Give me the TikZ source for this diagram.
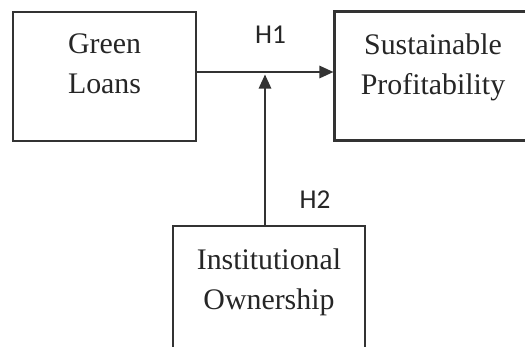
\documentclass[tikz,border=0pt]{standalone}
\usepackage{fontspec}
\setmainfont{Liberation Serif}
\newfontfamily\hypfont{Carlito}
\usetikzlibrary{arrows.meta,positioning}

\begin{document}
\begin{tikzpicture}[x=0.02cm, y=-0.02cm,
  box/.style={draw=black!80, line width=1.2pt, rectangle, inner sep=0pt, minimum height=2.58cm},
  arrow/.style={-{Triangle[length=8pt, width=7pt]}, line width=1.2pt, draw=black!80},
  txt/.style={font=\fontsize{17}{23.2}\selectfont, align=center, text=black!85, inner sep=0pt, anchor=north},
  hyp/.style={font=\hypfont\fontsize{15.5}{18}\selectfont, text=black!85, anchor=base},
]
\useasboundingbox (0,0) rectangle (525,346);
\clip (0,0) rectangle (525,346);

% === VARIABLES ===
\node[box, minimum width=3.66cm] (loans) at (104.5, 76.5) {};
\node[box, minimum width=4.3cm] (profit) at (442, 76) {};
\node[box, minimum width=3.84cm] (owner) at (269, 290.5) {};

\node[txt] (loanstxt) at (104.5, 33) {Green\\Loans};
\node[txt] (profittxt) at (433, 33) {Sustainable\\Profitability};
\node[txt] (ownertxt) at (269, 248) {Institutional\\Ownership};

% === HYPOTHESES ===
\coordinate (line) at (265, 72);
\coordinate (join) at (265, 74.5);
\draw[arrow] (loans.east |- line) -- (profit.west |- line);
\draw[arrow] (owner.north -| join) -- (join);

\node[hyp] (h1) at (270.5, 43) {H1};
\node[hyp] (h2) at (315, 208) {H2};
\end{tikzpicture}
\end{document}
